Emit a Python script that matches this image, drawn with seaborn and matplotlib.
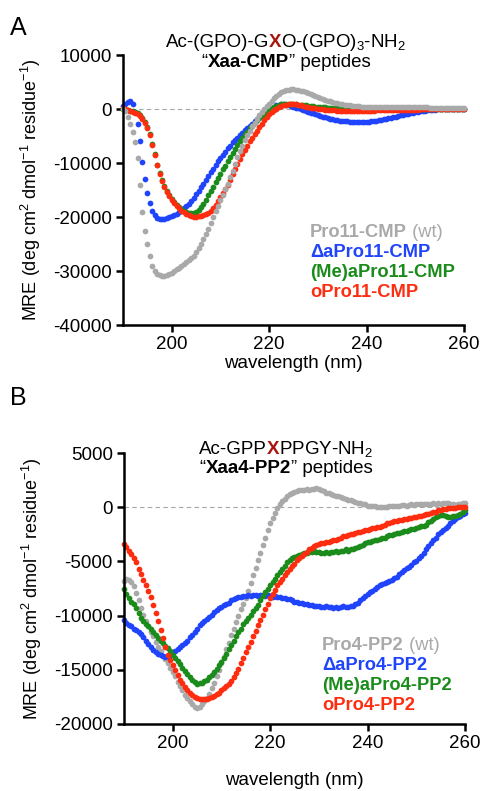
import numpy as np
import matplotlib
matplotlib.use('Agg')
import matplotlib.pyplot as plt
import seaborn as sns

# wavelength grid of the CD scans (nm), 0.5 nm steps
wavelength = np.arange(190, 260.5, 0.5)

# ---- panel A: Xaa-CMP peptides (MRE) ----
cmp_wt = [
    0, -300, -1500, -2800, -4200, -6200, -9000, -14000, -19000, -22500,
    -25000, -27200, -29000, -30000, -30500, -30800, -30900, -30900, -30700, -30500,
    -30300, -30000, -29700, -29400, -29100, -28700, -28400, -28000, -27600, -27200,
    -26500, -25800, -25000, -24100, -23200, -22200, -21100, -20000, -18900, -17900,
    -16900, -15900, -14900, -13800, -12600, -11400, -10100, -8900, -7800, -6800,
    -5800, -4900, -4000, -3200, -2500, -1800, -1200, -600, 0, 500,
    1000, 1500, 2000, 2400, 2800, 3100, 3300, 3500, 3600, 3650,
    3650, 3600, 3500, 3400, 3250, 3100, 2900, 2750, 2550, 2400,
    2200, 2050, 1850, 1700, 1550, 1400, 1250, 1150, 1050, 950,
    850, 780, 720, 660, 600, 560, 520, 490, 460, 440,
    420, 410, 400, 390, 380, 370, 360, 350, 350, 340,
    340, 330, 330, 320, 320, 310, 310, 300, 300, 300,
    290, 290, 290, 280, 280, 280, 270, 270, 270, 260,
    260, 260, 250, 250, 250, 240, 240, 240, 230, 230,
    230]
cmp_dapro = [
    500, 1000, 1300, 1400, 900, -500, -2800, -5900, -9800, -13000,
    -15500, -17400, -18900, -19700, -20100, -20300, -20400, -20400, -20200, -20000,
    -19800, -19600, -19400, -19100, -18700, -18300, -17900, -17500, -17000, -16400,
    -15800, -15200, -14500, -13800, -13100, -12400, -11700, -11100, -10400, -9700,
    -9100, -8500, -7900, -7300, -6800, -6200, -5700, -5300, -4900, -4400,
    -3900, -3500, -3100, -2700, -2300, -1900, -1500, -1100, -700, -300,
    0, 250, 450, 650, 800, 850, 850, 800, 700, 550,
    400, 250, 100, -50, -200, -350, -500, -650, -800, -950,
    -1100, -1250, -1400, -1550, -1700, -1800, -1900, -2000, -2100, -2150,
    -2200, -2250, -2300, -2350, -2350, -2400, -2400, -2400, -2400, -2400,
    -2400, -2350, -2300, -2250, -2200, -2100, -2000, -1900, -1800, -1700,
    -1600, -1500, -1400, -1300, -1200, -1100, -1000, -900, -800, -700,
    -600, -520, -450, -380, -320, -260, -210, -160, -120, -80,
    -50, -20, 0, 0, 0, 0, 0, 0, 0, 0,
    0]
cmp_meapro = [
    0, -100, -200, -300, -400, -600, -800, -1100, -1700, -2400,
    -3300, -4600, -6400, -8300, -10300, -11900, -13200, -14300, -15200, -16000,
    -16700, -17300, -17800, -18200, -18600, -18900, -19100, -19200, -19300, -19300,
    -19100, -18700, -18200, -17500, -16800, -16000, -15200, -14400, -13600, -12800,
    -12000, -11200, -10500, -9700, -8900, -8100, -7400, -6600, -5900, -5300,
    -4700, -4200, -3600, -3100, -2600, -2100, -1700, -1300, -900, -500,
    -150, 150, 400, 600, 750, 850, 900, 950, 950, 950,
    900, 850, 800, 750, 700, 650, 600, 550, 500, 450,
    400, 360, 320, 280, 240, 200, 170, 140, 110, 80,
    50, 30, 10, 0, -20, -40, -50, -60, -70, -80,
    -80, -80, -80, -80, -80, -80, -80, -80, -70, -70,
    -70, -70, -60, -60, -60, -60, -50, -50, -50, -50,
    -40, -40, -40, -30, -30, -30, -20, -20, -20, -10,
    -10, 0, 0, 0, 0, 0, 0, 0, 0, 0,
    0]
cmp_opro = [
    100, 0, -200, -400, -600, -800, -1000, -1300, -1800, -2500,
    -3500, -4800, -6600, -8500, -10400, -12000, -13300, -14400, -15300, -16100,
    -16800, -17400, -17900, -18400, -18800, -19100, -19400, -19700, -19900, -20000,
    -20000, -19900, -19800, -19700, -19500, -19200, -18900, -18400, -17700, -17000,
    -16300, -15500, -14800, -14000, -13100, -12100, -11200, -10200, -9300, -8400,
    -7600, -6800, -6000, -5300, -4600, -4000, -3300, -2700, -2100, -1500,
    -1000, -600, -250, 50, 300, 500, 650, 750, 850, 900,
    900, 850, 750, 650, 550, 450, 350, 250, 150, 100,
    50, 0, -50, -100, -150, -200, -230, -260, -280, -300,
    -300, -300, -300, -300, -300, -300, -300, -300, -300, -300,
    -300, -300, -290, -280, -270, -260, -250, -240, -230, -220,
    -210, -200, -190, -180, -170, -160, -150, -140, -130, -120,
    -110, -100, -90, -80, -70, -60, -50, -40, -30, -20,
    -10, 0, 0, 0, 0, 0, 0, 0, 0, 0,
    0]

# ---- panel B: Xaa4-PP2 peptides (MRE) ----
pp2_wt = [
    -6800, -6600, -6700, -6900, -7300, -7900, -8600, -9300, -9900, -10500,
    -11000, -11500, -11900, -12400, -12900, -13300, -13700, -14000, -14400, -14800,
    -15200, -15600, -16100, -16500, -16900, -17300, -17600, -17900, -18200, -18400,
    -18500, -18400, -18200, -17900, -17600, -17200, -16700, -16200, -15600, -15000,
    -14400, -13800, -13100, -12500, -11800, -11200, -10600, -10000, -9400, -8900,
    -8400, -7700, -7000, -6300, -5600, -4900, -4200, -3500, -2800, -2100,
    -1500, -1000, -500, -100, 300, 600, 800, 1000, 1200, 1300,
    1400, 1500, 1550, 1600, 1600, 1650, 1600, 1650, 1700, 1750,
    1650, 1550, 1450, 1350, 1300, 1200, 1150, 1050, 1000, 900,
    850, 800, 700, 650, 550, 500, 400, 350, 300, 250,
    150, 100, 150, 100, 0, 50, 0, 50, 0, 100,
    150, 100, 100, 150, 200, 200, 150, 200, 250, 200,
    250, 250, 300, 250, 300, 300, 300, 350, 300, 350,
    300, 350, 400, 350, 300, 250, 200, 250, 300, 350,
    400]
pp2_dapro = [
    -10400, -10700, -10900, -11000, -11200, -11300, -11500, -11700, -12000, -12300,
    -12600, -12900, -13200, -13400, -13500, -13600, -13700, -13800, -13700, -13600,
    -13400, -13300, -13100, -12900, -12700, -12500, -12300, -12000, -11800, -11500,
    -11200, -10900, -10700, -10500, -10300, -10100, -9900, -9700, -9500, -9300,
    -9200, -9000, -8900, -8800, -8600, -8500, -8400, -8300, -8300, -8200,
    -8200, -8100, -8200, -8100, -8100, -8200, -8100, -8100, -8200, -8100,
    -8200, -8300, -8200, -8300, -8300, -8400, -8400, -8500, -8500, -8600,
    -8700, -8700, -8800, -8800, -8900, -8900, -9000, -9000, -9100, -9100,
    -9100, -9200, -9200, -9100, -9200, -9200, -9300, -9200, -9300, -9200,
    -9100, -9200, -9200, -9100, -9100, -8900, -8800, -8600, -8400, -8200,
    -8000, -7800, -7700, -7500, -7400, -7200, -7100, -7000, -6900, -6800,
    -6700, -6500, -6400, -6200, -6000, -5800, -5600, -5500, -5300, -5100,
    -5000, -4700, -4500, -4200, -3900, -3600, -3300, -3000, -2800, -2500,
    -2300, -2100, -1900, -1700, -1500, -1300, -1100, -950, -800, -650,
    -500]
pp2_meapro = [
    -7500, -8000, -8400, -8700, -8900, -9300, -9800, -10200, -10500, -10800,
    -11000, -11200, -11500, -11800, -12100, -12300, -12500, -12800, -13000, -13300,
    -13600, -13900, -14200, -14500, -14800, -15100, -15400, -15700, -15900, -16100,
    -16300, -16200, -16200, -16000, -15900, -15700, -15500, -15200, -14900, -14600,
    -14300, -13900, -13500, -13100, -12700, -12300, -11900, -11500, -11200, -10800,
    -10500, -10200, -9900, -9600, -9300, -9000, -8600, -8200, -7800, -7500,
    -7200, -6900, -6600, -6300, -6000, -5700, -5400, -5100, -4900, -4700,
    -4600, -4500, -4400, -4300, -4200, -4200, -4100, -4100, -4000, -4100,
    -4100, -4200, -4200, -4100, -4200, -4100, -4100, -4000, -4100, -4000,
    -4000, -3900, -4000, -3900, -3900, -3800, -3700, -3600, -3500, -3300,
    -3200, -3200, -3100, -3000, -3000, -2900, -2800, -2800, -2700, -2600,
    -2600, -2500, -2400, -2400, -2300, -2200, -2200, -2100, -2000, -2000,
    -1900, -1800, -1700, -1700, -1600, -1400, -1300, -1100, -900, -800,
    -700, -700, -800, -900, -900, -800, -800, -700, -600, -400,
    -300]
pp2_opro = [
    -3400, -3700, -4000, -4300, -4700, -5100, -5700, -6200, -6700, -7200,
    -7700, -8300, -9000, -9800, -10500, -11300, -12100, -12900, -13600, -14100,
    -14600, -15000, -15500, -15900, -16200, -16600, -16900, -17100, -17300, -17500,
    -17600, -17700, -17700, -17700, -17700, -17600, -17500, -17400, -17200, -17100,
    -16900, -16700, -16500, -16300, -16000, -15700, -15300, -14900, -14400, -13900,
    -13400, -12900, -12400, -11900, -11400, -10900, -10400, -9900, -9400, -8900,
    -8400, -8000, -7600, -7200, -6900, -6600, -6300, -6000, -5700, -5400,
    -5200, -4900, -4700, -4500, -4300, -4100, -3900, -3800, -3600, -3500,
    -3400, -3300, -3300, -3200, -3200, -3100, -3000, -3000, -2900, -2800,
    -2700, -2700, -2600, -2500, -2500, -2400, -2300, -2300, -2200, -2100,
    -2100, -2000, -1900, -1900, -1800, -1800, -1700, -1600, -1500, -1500,
    -1400, -1300, -1300, -1200, -1200, -1100, -1100, -1000, -1000, -900,
    -900, -800, -800, -700, -600, -600, -500, -400, -400, -300,
    -300, -200, -200, -100, -100, -100, -50, 0, 0, 50,
    0]

labels_a = ['Pro11-CMP', '\u0394aPro11-CMP', '(Me)aPro11-CMP', 'oPro11-CMP']
labels_b = ['Pro4-PP2', '\u0394aPro4-PP2', '(Me)aPro4-PP2', 'oPro4-PP2']

GRAY = '#a9a9a9'
BLUE = '#1f44fb'
GREEN = '#1b8c1b'
RED = '#ff2d10'
XRED = '#a8150f'

sns.set_style('ticks')
plt.rcParams['font.family'] = ['Liberation Sans', 'DejaVu Sans']
plt.rcParams['mathtext.fontset'] = 'custom'
plt.rcParams['mathtext.rm'] = 'Liberation Sans'
plt.rcParams['mathtext.it'] = 'Liberation Sans:italic'
plt.rcParams['mathtext.bf'] = 'Liberation Sans:bold'
plt.rcParams['mathtext.default'] = 'regular'
plt.rcParams['axes.unicode_minus'] = False
for key in ['text.color', 'axes.labelcolor', 'xtick.color', 'ytick.color']:
    plt.rcParams[key] = 'black'

W, H = 480, 791
fig = plt.figure(figsize=(W / 100, H / 100), dpi=100)
axA = fig.add_axes([123 / W, 1 - 325 / H, 341 / W, 270 / H])
axB = fig.add_axes([124 / W, 1 - 724 / H, 341 / W, 271 / H])

ylab = 'MRE (deg cm$^2$ dmol$^{-1}$ residue$^{-1}$)'


def draw_panel(ax, series, ylim, yticks, xpad):
    ax.axhline(0, color='#a6a6a6', lw=0.8, ls=(0, (4, 3)), zorder=0)
    for vals, color in series:
        sns.scatterplot(x=wavelength, y=vals, color=color, s=17, linewidth=0,
                        ax=ax, clip_on=False, legend=False)
    ax.set_xlim(190, 260)
    ax.set_ylim(*ylim)
    ax.set_xticks([200, 220, 240, 260])
    ax.set_yticks(yticks)
    sns.despine(ax=ax)
    for sp in ['left', 'bottom']:
        ax.spines[sp].set_linewidth(1.8)
        ax.spines[sp].set_color('black')
    ax.tick_params(direction='out', length=5, width=1.8, labelsize=13.5, pad=3)
    ax.set_xlabel('wavelength (nm)', fontsize=13.5, labelpad=xpad)
    ax.set_ylabel(ylab, fontsize=13, va='center')
    ax.yaxis.set_label_coords(-0.27, 0.5)


draw_panel(axA, [(cmp_dapro, BLUE), (cmp_meapro, GREEN), (cmp_opro, RED), (cmp_wt, GRAY)],
           (-40000, 10000), range(-40000, 10001, 10000), 1)
draw_panel(axB, [(pp2_wt, GRAY), (pp2_dapro, BLUE), (pp2_meapro, GREEN), (pp2_opro, RED)],
           (-20000, 5000), range(-20000, 5001, 5000), 14)

renderer = fig.canvas.get_renderer()


def rich_text(x_px, y_px, pieces, center=False, size=13.5):
    # pieces of differently styled text placed one after another on a baseline
    texts = [fig.text(0, 1 - y_px / H, s, fontsize=size, va='baseline', **kw) for s, kw in pieces]
    widths = [t.get_window_extent(renderer).width for t in texts]
    x = x_px - sum(widths) / 2 if center else x_px
    for t, w in zip(texts, widths):
        t.set_x(x / W)
        x += w


rich_text(286, 47, [('Ac-(GPO)-G', {}), ('X', {'color': XRED, 'fontweight': 'bold'}),
                    ('O-(GPO)$_3$-NH$_2$', {})], center=True)
rich_text(286, 67, [('\u201c', {}), ('Xaa-CMP', {'fontweight': 'bold'}), ('\u201d peptides', {})],
          center=True)
rich_text(286, 454, [('Ac-GPP', {}), ('X', {'color': XRED, 'fontweight': 'bold'}), ('PPGY-NH$_2$', {})],
          center=True)
rich_text(286, 473, [('\u201c', {}), ('Xaa4-PP2', {'fontweight': 'bold'}), ('\u201d peptides', {})],
          center=True)

colors = [GRAY, BLUE, GREEN, RED]
for i, (lab, c) in enumerate(zip(labels_a, colors)):
    pieces = [(lab, {'color': c, 'fontweight': 'bold'})]
    if i == 0:
        pieces.append((' (wt)', {'color': c}))
    rich_text(310, 237 + 20 * i, pieces, size=13.2)
for i, (lab, c) in enumerate(zip(labels_b, colors)):
    pieces = [(lab, {'color': c, 'fontweight': 'bold'})]
    if i == 0:
        pieces.append((' (wt)', {'color': c}))
    rich_text(322, 650 + 20 * i, pieces, size=13.2)

fig.text(10 / W, 1 - 35 / H, 'A', fontsize=18)
fig.text(10 / W, 1 - 405 / H, 'B', fontsize=18)

fig.savefig('out.png', dpi=100)
